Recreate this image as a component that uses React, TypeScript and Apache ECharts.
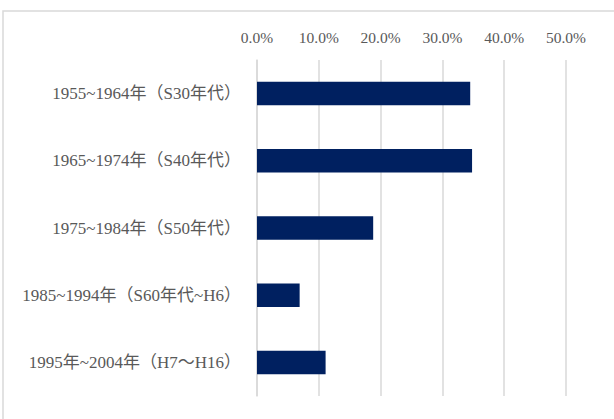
import React, { useEffect, useRef } from "react";
import * as echarts from "echarts";

const categories = [
  "1955~1964年（S30年代）",
  "1965~1974年（S40年代）",
  "1975~1984年（S50年代）",
  "1985~1994年（S60年代~H6）",
  "1995年~2004年（H7～H16）",
];
const shares = [0.345, 0.348, 0.188, 0.069, 0.111];

const FONT = '"Liberation Serif", "DejaVu Serif", "Noto Sans CJK JP", serif';

export default function App() {
  const ref = useRef<HTMLDivElement>(null);
  useEffect(() => {
    document.body.style.margin = "0";
    const chart = echarts.init(ref.current!, null, { renderer: "svg" });
    chart.setOption({
      animation: false,
      backgroundColor: "#ffffff",
      graphic: [
        {
          type: "rect",
          shape: { x: 3, y: 11, width: 700, height: 500 },
          style: { fill: "none", stroke: "#d9d9d9", lineWidth: 1.5 },
          silent: true,
        },
      ],
      grid: { left: 257, right: 48, top: 60, bottom: 23, containLabel: false },
      xAxis: {
        type: "value",
        position: "top",
        min: 0,
        max: 0.5,
        interval: 0.1,
        axisLine: { show: false },
        axisTick: { show: false },
        axisLabel: {
          margin: 15,
          color: "#595959",
          fontSize: 15.5,
          fontFamily: FONT,
          formatter: (v: number) => (v * 100).toFixed(1) + "%",
        },
        splitLine: { show: true, lineStyle: { color: "#d9d9d9", width: 1.5 } },
      },
      yAxis: {
        type: "category",
        inverse: true,
        data: categories,
        axisLine: { show: true, lineStyle: { color: "#d9d9d9", width: 1.5 } },
        axisTick: { show: false },
        axisLabel: {
          margin: 16,
          color: "#595959",
          fontSize: 17,
          fontFamily: FONT,
        },
      },
      series: [
        {
          type: "bar",
          data: shares,
          barWidth: "35%",
          itemStyle: { color: "#002060" },
        },
      ],
    });
    return () => chart.dispose();
  }, []);
  return <div ref={ref} style={{ width: 614, height: 419 }} />;
}
